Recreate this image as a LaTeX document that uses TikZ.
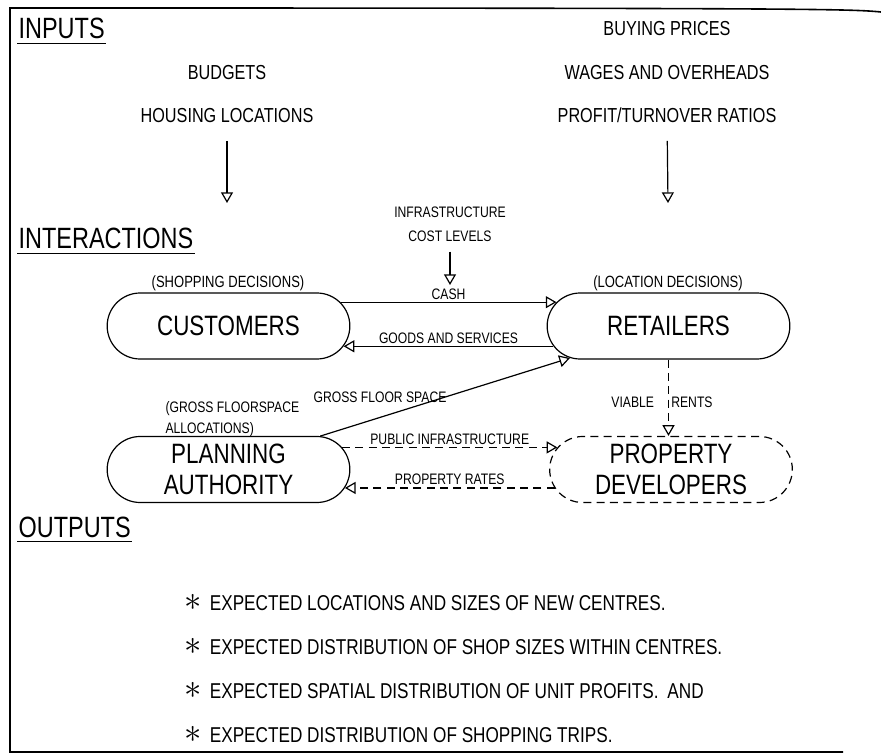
\documentclass[tikz,border=0pt]{standalone}
\usepackage{fontspec}
\setmainfont{Liberation Sans}[FakeStretch=0.8]
\usetikzlibrary{arrows.meta,shapes.misc}

\begin{document}
\begin{tikzpicture}[x=0.75pt,y=0.75pt,yscale=-1,xscale=1,
    line width=0.9pt,
    agent/.style={rounded rectangle, draw, minimum width=182pt, minimum height=49.5pt, inner sep=0pt, align=center, font=\fontsize{21}{23}\selectfont},
    head/.style={anchor=base west, inner xsep=0.75pt, inner ysep=3pt, font=\fontsize{22}{24}\selectfont},
    mid/.style={anchor=base, inner sep=0.75pt, font=\fontsize{15.2}{18}\selectfont},
    outitem/.style={anchor=base west, inner sep=0.75pt, font=\fontsize{16.1}{18}\selectfont},
    lbl/.style={anchor=base, inner sep=0.75pt, font=\fontsize{11.4}{16}\selectfont},
    declbl/.style={lbl, font=\fontsize{12.2}{16}\selectfont},
    flow/.style={-{Triangle[open,length=8pt,width=9pt]}},
    dsh/.style={dash pattern=on 6pt off 4pt}]
    \useasboundingbox (0,0) rectangle (881,755);

    % Frame
    \draw [line width=1.2pt] (881,12) .. controls (850,9) and (820,8) .. (10,8) -- (10,752) -- (843,752) ;

    % Text Node
    \node [head] (inputs) at (17,39) {INPUTS};
    \draw (inputs.south west) -- (inputs.south east) ;
    % Text Node
    \node [mid] (buying) at (667,36) {BUYING PRICES};
    % Text Node
    \node [mid] (budgets) at (227,80) {BUDGETS};
    % Text Node
    \node [mid] (wages) at (667,80) {WAGES AND OVERHEADS};
    % Text Node
    \node [mid] (housing) at (227,123) {HOUSING LOCATIONS};
    % Text Node
    \node [mid] (profit) at (667,123) {PROFIT/TURNOVER RATIOS};

    \coordinate (custin) at (227,203);
    \coordinate (retin) at (668,203);
    \draw [flow, shorten <=12pt] (housing) -- (custin) ;
    \draw [flow, shorten <=12pt] (profit) -- (retin) ;

    % Text Node
    \node [head] (interact) at (17,249) {INTERACTIONS};
    \draw (interact.south west) -- (interact.south east) ;
    % Text Node
    \node [lbl] (infra) at (450,218) {INFRASTRUCTURE};
    % Text Node
    \node [lbl] (cost) at (450,242) {COST LEVELS};
    \coordinate (costin) at (450,285);
    \draw [flow, shorten <=6pt] (cost) -- (costin) ;

    % Rounded Rect
    \node [agent] (cust) at (228.5,326) {CUSTOMERS};
    % Rounded Rect
    \node [agent] (ret) at (668.5,326) {RETAILERS};
    % Rounded Rect
    \node [agent] (plan) at (228.5,469.5) {PLANNING\\AUTHORITY};
    % Rounded Rect
    \node [agent, dsh] (prop) at (671,469.5) {PROPERTY\\DEVELOPERS};

    % Text Node
    \node [declbl] (shopdec) at (228,288) {(SHOPPING DECISIONS)};
    % Text Node
    \node [declbl] (locdec) at (668,288) {(LOCATION DECISIONS)};
    % Text Node
    \node [lbl, anchor=base west] (gfa1) at (164,412) {(GROSS FLOORSPACE};
    % Text Node
    \node [lbl, anchor=base west] (gfa2) at (164,433) {ALLOCATIONS)};

    % Straight Lines
    \draw [flow] (cust.12) -- node [lbl, above=1pt, anchor=south] (cash) {CASH} (ret.168) ;
    \draw [flow] (ret.190) -- node [lbl, above=1pt, anchor=south] (goods) {GOODS AND SERVICES} (cust.-10) ;
    \draw [flow] (plan.20) -- (ret.198) ;
    \node [lbl] (gfs) at (380,402) {GROSS FLOOR SPACE};
    \draw [flow, dsh] (ret.south) -- (ret.south |- prop.north) ;
    \node [lbl] (viable) at (662,407) {VIABLE\hspace{13pt}RENTS};
    \draw [flow, dsh] (plan.11) -- node [lbl, above=1pt, anchor=south] (pubinf) {PUBLIC INFRASTRUCTURE} (prop.169) ;
    \draw [flow, dsh] (prop.189) -- node [lbl, above=1pt, anchor=south] (rates) {PROPERTY RATES} (plan.-9) ;

    % Text Node
    \node [head] (outputs) at (17,537) {OUTPUTS};
    \draw (outputs.south west) -- (outputs.south east) ;
    % Text Node
    \node [outitem] (out1) at (183,610) {\scalebox{1.5}{$\ast$}\hspace{6pt}EXPECTED LOCATIONS AND SIZES OF NEW CENTRES.};
    % Text Node
    \node [outitem] (out2) at (183,654) {\scalebox{1.5}{$\ast$}\hspace{6pt}EXPECTED DISTRIBUTION OF SHOP SIZES WITHIN CENTRES.};
    % Text Node
    \node [outitem] (out3) at (183,698) {\scalebox{1.5}{$\ast$}\hspace{6pt}EXPECTED SPATIAL DISTRIBUTION OF UNIT PROFITS.\hspace{3pt} AND};
    % Text Node
    \node [outitem] (out4) at (183,742) {\scalebox{1.5}{$\ast$}\hspace{6pt}EXPECTED DISTRIBUTION OF SHOPPING TRIPS.};
\end{tikzpicture}
\end{document}
